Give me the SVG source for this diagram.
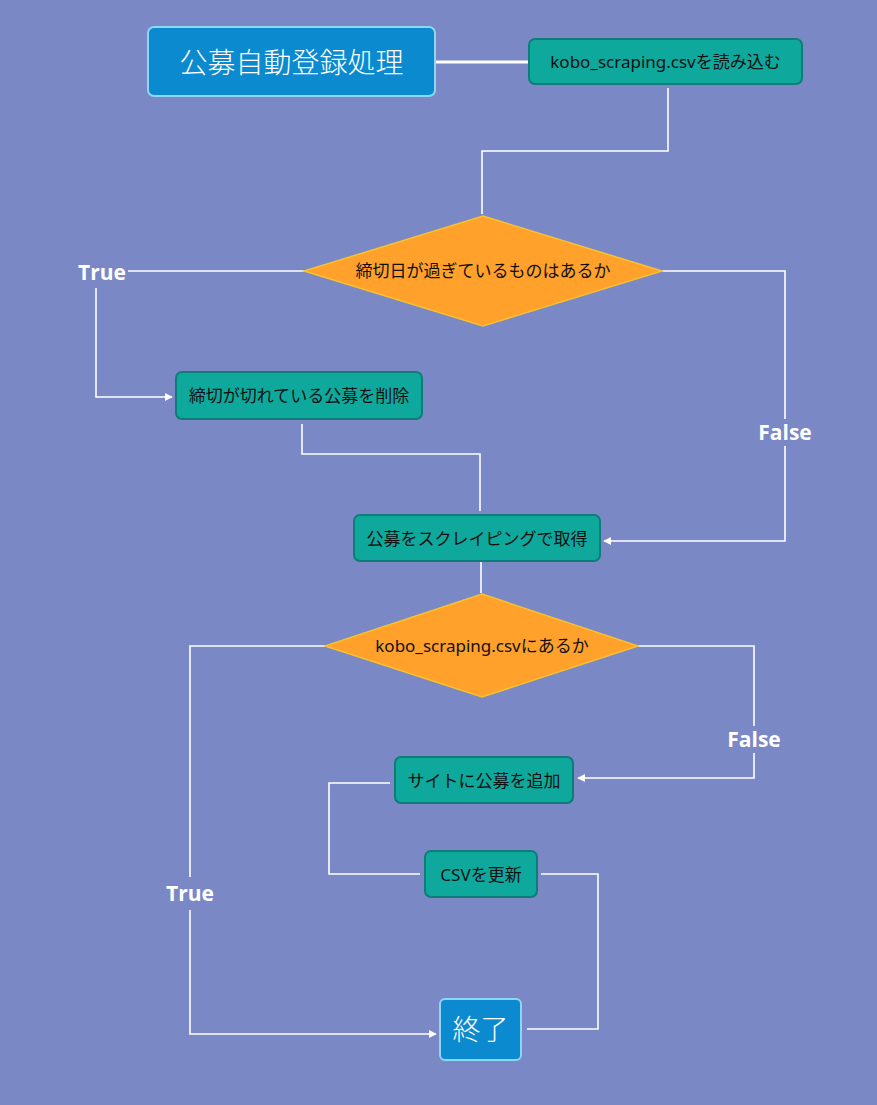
<svg xmlns="http://www.w3.org/2000/svg" width="877" height="1105" viewBox="0 0 877 1105">
<defs>
<style>
.bg{fill:#7a88c6}
.start{fill:#0b8ad0;stroke:#8ed6f6;stroke-width:2}
.proc{fill:#0fa89c;stroke:#0f7c78;stroke-width:2}
.dec{fill:#ffa12b;stroke:#f7c12f;stroke-width:1.5}
.t{font-family:"Noto Sans","Noto Sans CJK JP",sans-serif;font-size:17px;fill:#111;text-anchor:middle;dominant-baseline:central}
.tw{font-family:"Noto Sans CJK JP",sans-serif;font-size:28px;fill:#fff;text-anchor:middle;dominant-baseline:central;font-weight:300}
.lbl{font-family:"Open Sans","Noto Sans",sans-serif;font-size:21px;font-weight:bold;fill:#fff;text-anchor:middle;dominant-baseline:central}
.c{fill:none;stroke:#fff;stroke-width:1.6}
</style>
<marker id="ah" viewBox="0 0 10 10" refX="9" refY="5" markerWidth="8" markerHeight="8" markerUnits="userSpaceOnUse" orient="auto">
<path d="M0,0 L10,5 L0,10 z" fill="#fff"/>
</marker>
</defs>
<rect class="bg" x="0" y="0" width="877" height="1105"/>
<g id="connectors">
<path class="c" d="M435,62 H529" style="stroke-width:3"/>
<path class="c" d="M668,88 V151 H482 V214"/>
<path class="c" d="M304,271 H128"/>
<path class="c" d="M96,288 V397 H172" marker-end="url(#ah)"/>
<path class="c" d="M302,424 V454 H480 V511"/>
<path class="c" d="M662,271 H785 V419"/>
<path class="c" d="M785,446 V541 H604" marker-end="url(#ah)"/>
<path class="c" d="M481,562 V593"/>
<path class="c" d="M325,646 H190 V877"/>
<path class="c" d="M190,910 V1034 H436" marker-end="url(#ah)"/>
<path class="c" d="M638,646 H754 V726"/>
<path class="c" d="M754,753 V778 H578" marker-end="url(#ah)"/>
<path class="c" d="M390,783 H329 V874 H420"/>
<path class="c" d="M541,874 H598 V1029 H527"/>
<text class="lbl" x="102" y="272">True</text>
<text class="lbl" x="785" y="432">False</text>
<text class="lbl" x="190" y="893">True</text>
<text class="lbl" x="754" y="739">False</text>
</g>
<g id="start">
<rect class="start" x="148" y="27" width="287" height="69" rx="6"/>
<text class="tw" x="291.5" y="61">公募自動登録処理</text>
</g>
<g id="read">
<rect class="proc" x="529" y="39" width="273" height="45" rx="6"/>
<text class="t" x="665.5" y="61.5">kobo_scraping.csvを読み込む</text>
</g>
<g id="dec1">
<polygon class="dec" points="483,216 662,271 483,326 304,271"/>
<text class="t" x="483" y="270">締切日が過ぎているものはあるか</text>
</g>
<g id="delete">
<rect class="proc" x="176" y="372" width="246" height="47" rx="6"/>
<text class="t" x="299" y="395.5">締切が切れている公募を削除</text>
</g>
<g id="scrape">
<rect class="proc" x="354" y="515" width="246" height="46" rx="6"/>
<text class="t" x="477" y="538">公募をスクレイピングで取得</text>
</g>
<g id="dec2">
<polygon class="dec" points="482,594 638,646 482,697 325,646"/>
<text class="t" x="482" y="645">kobo_scraping.csvにあるか</text>
</g>
<g id="add">
<rect class="proc" x="395" y="757" width="178" height="46" rx="6"/>
<text class="t" x="484" y="780">サイトに公募を追加</text>
</g>
<g id="update">
<rect class="proc" x="425" y="851" width="112" height="46" rx="6"/>
<text class="t" x="481" y="874">CSVを更新</text>
</g>
<g id="end">
<rect class="start" x="440" y="999" width="81" height="61" rx="5"/>
<text class="tw" x="480.5" y="1028">終了</text>
</g>
</svg>
